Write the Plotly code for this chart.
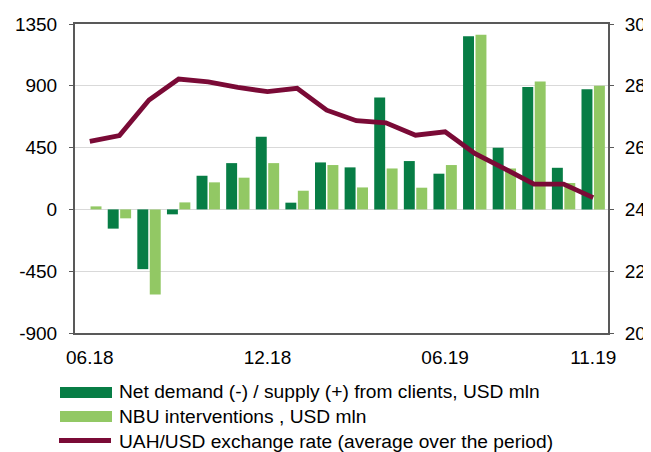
import plotly.graph_objects as go

months = ["06.18", "07.18", "08.18", "09.18", "10.18", "11.18", "12.18", "01.19", "02.19",
          "03.19", "04.19", "05.19", "06.19", "07.19", "08.19", "09.19", "10.19", "11.19"]
net_demand = [0, -140, -435, -36, 245, 337, 529, 49, 342, 306, 815, 352, 260, 1260, 449, 891, 303, 874]
nbu_interventions = [22, -65, -620, 51, 197, 231, 337, 136, 323, 160, 298, 158, 323, 1272, 298, 932, 192, 900]
uah_usd = [26.2, 26.39, 27.54, 28.22, 28.13, 27.95, 27.81, 27.92, 27.21, 26.87, 26.8, 26.4,
           26.51, 25.81, 25.32, 24.82, 24.82, 24.38]
tick_labels = ["06.18", "12.18", "06.19", "11.19"]
left_ticks = [-900, -450, 0, 450, 900, 1350]
left_tick_text = ["-900", "-450", "0", "450", "900", "1350"]
legend_names = ["Net demand (-) / supply (+) from clients, USD mln",
                "NBU interventions , USD mln",
                "UAH/USD exchange rate (average over the period)"]

DARK = "#077D45"
LIGHT = "#92C864"
MAROON = "#7A0A36"
AXIS = "#595959"
FONT = "Liberation Sans, Arial, sans-serif"

# page body adds an 8px offset; work in page pixels and convert
OFF = 8
PAGE_W, PAGE_H = 651, 452
W, H = PAGE_W - OFF, PAGE_H - OFF
PLOT_L, PLOT_R, PLOT_T, PLOT_B = 75, 608, 24, 333  # page pixels
L, T = PLOT_L - OFF, PLOT_T - OFF
PW, PH = PLOT_R - PLOT_L, PLOT_B - PLOT_T
R, B = W - L - PW, H - T - PH

def px(x):
    return (x - PLOT_L) / PW

def py(y):
    return (PLOT_B - y) / PH

fig = go.Figure()
fig.add_trace(go.Bar(x=months, y=net_demand, name=legend_names[0], marker_color=DARK,
                     marker_line_width=0))
fig.add_trace(go.Bar(x=months, y=nbu_interventions, name=legend_names[1], marker_color=LIGHT,
                     marker_line_width=0))
fig.add_trace(go.Scatter(x=months, y=uah_usd, name=legend_names[2], mode="lines",
                         line=dict(color=MAROON, width=4.8), yaxis="y2"))

shapes = [
    dict(type="rect", xref="paper", yref="paper", x0=px(60), x1=px(112), y0=py(398), y1=py(387),
         fillcolor=DARK, line_width=0),
    dict(type="rect", xref="paper", yref="paper", x0=px(60), x1=px(112), y0=py(422), y1=py(411),
         fillcolor=LIGHT, line_width=0),
    dict(type="line", xref="paper", yref="paper", x0=px(59), x1=px(111), y0=py(440.5), y1=py(440.5),
         line=dict(color=MAROON, width=4.8)),
]
annotations = []
for name, yc in zip(legend_names, [391.5, 416.5, 441]):
    annotations.append(dict(text=name, xref="paper", yref="paper", x=px(117), y=py(yc),
                            xanchor="left", yanchor="middle", showarrow=False,
                            font=dict(family=FONT, size=19.2, color="black")))

fig.update_layout(
    width=W, height=H,
    margin=dict(l=L, r=R, t=T, b=B, autoexpand=False),
    paper_bgcolor="white", plot_bgcolor="white",
    barmode="group", bargap=0.16, bargroupgap=0.12,
    showlegend=False,
    font=dict(family=FONT, size=19, color="black"),
    xaxis=dict(type="category", range=[-0.5, 17.5], tickmode="array", tickvals=tick_labels,
               ticktext=tick_labels, showgrid=False, showline=True, linecolor=AXIS, linewidth=2,
               mirror=True, ticks="", ticklabelstandoff=6, zeroline=False, automargin=False),
    yaxis=dict(range=[-900, 1350], tickmode="array", tickvals=left_ticks, ticktext=left_tick_text,
               showgrid=True, gridcolor="#D9D9D9",
               gridwidth=1, showline=True, linecolor=AXIS, linewidth=2, ticks="outside",
               ticklen=4, tickcolor=AXIS, zeroline=False, ticklabelstandoff=8, automargin=False),
    yaxis2=dict(range=[20, 30], dtick=2, overlaying="y", side="right", showgrid=False,
                showline=True, linecolor=AXIS, linewidth=2, ticks="outside", ticklen=4,
                tickcolor=AXIS, zeroline=False, ticklabelstandoff=7, automargin=False),
    shapes=shapes,
    annotations=annotations,
)

fig.write_html("out.html")
